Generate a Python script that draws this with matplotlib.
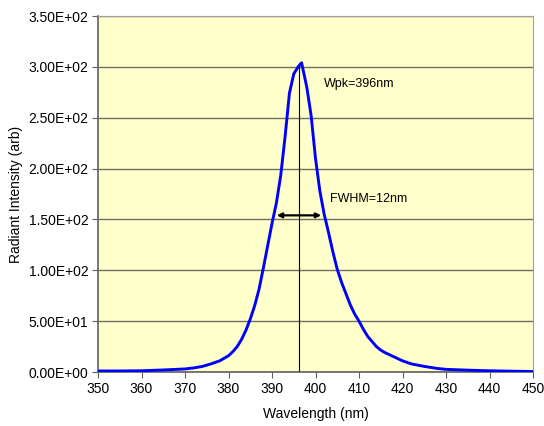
import matplotlib
matplotlib.use("Agg")
import matplotlib.pyplot as plt

# spectrum (nm, arb)
wavelength = [350, 355, 360, 365, 370, 372, 374, 376, 378, 380, 381, 382, 383,
              384, 385, 386, 387, 388, 389, 390, 391, 392, 393, 394, 395, 396,
              396.8, 397, 398, 399, 400, 401, 402, 403, 404, 405, 406, 407,
              408, 409, 410, 411, 412, 413, 414, 415, 416, 418, 420, 422, 425,
              428, 430, 435, 440, 445, 450]
intensity = [1.0, 1.0, 1.2, 2.0, 3.0, 4.0, 5.5, 8.0, 11, 16, 20, 25, 32,
             41, 52, 65, 81, 102, 124, 146, 166, 193, 231, 274, 293, 300,
             304, 300, 280, 252, 210, 178, 155, 137, 118, 101, 88, 77,
             66, 57, 50, 42, 35, 30, 25, 21.5, 19, 15, 11, 8, 5.5,
             3.5, 2.6, 1.8, 1.2, 0.8, 0.5]

peak_nm, peak_val = 396.3, 304
fwhm_lo, fwhm_hi, fwhm_y = 391.1, 401.3, 154

plt.rcParams["font.family"] = ["Liberation Sans", "DejaVu Sans"]
plt.rcParams["font.size"] = 10

fig = plt.figure(figsize=(5.44, 4.26), dpi=100)
ax = fig.add_axes([98 / 544, 1 - 372 / 426, 435 / 544, 356 / 426])
ax.set_facecolor("#FFFFCC")

ax.plot(wavelength, intensity, color="#0000FF", lw=2.1, zorder=3)
ax.plot([peak_nm, peak_nm], [0, peak_val], color="black", lw=0.8, zorder=2)
ax.annotate("", xy=(fwhm_lo, fwhm_y), xytext=(fwhm_hi, fwhm_y),
            arrowprops=dict(arrowstyle="<|-|>", color="black", lw=1.6,
                            mutation_scale=7, shrinkA=0, shrinkB=0), zorder=4)
ax.text(402.0, 283, "Wpk=396nm", fontsize=9, va="center")
ax.text(403.3, 170, "FWHM=12nm", fontsize=9, va="center")

ax.set_xlim(350, 450)
ax.set_ylim(0, 350)
ax.set_xticks(range(350, 451, 10))
ax.set_yticks(range(0, 351, 50))
ax.yaxis.set_major_formatter(lambda v, p: f"{v:.2E}")
ax.grid(axis="y", color="#707060", lw=1.0)
ax.set_axisbelow(True)
for side in ["left", "bottom"]:
    ax.spines[side].set_color("#606060")
    ax.spines[side].set_linewidth(1.2)
for side in ["right", "top"]:
    ax.spines[side].set_color("#A0A0A0")
ax.tick_params(direction="out", length=4, width=0.8, color="#606060", pad=3)

ax.set_xlabel("Wavelength (nm)", labelpad=8)
ax.set_ylabel("Radiant Intensity (arb)", labelpad=4)

fig.savefig("out.png", dpi=100)
